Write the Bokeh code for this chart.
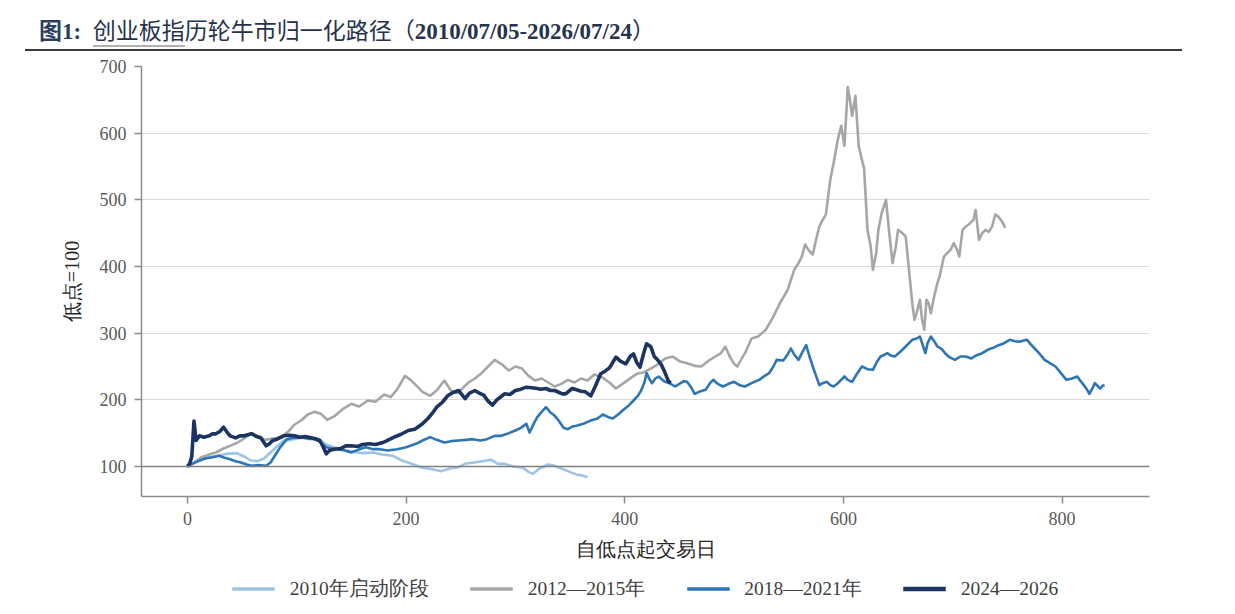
from bokeh.plotting import figure
from bokeh.models import Range1d, Span, Legend, LegendItem, Div, FixedTicker
from bokeh.layouts import column
from bokeh.embed import file_html
from bokeh.resources import INLINE

# ---------------- data ----------------
title_prefix = "图1:"
title_underlined = "创业板指"
title_rest = "历轮牛市归一化路径"
title_dates = "2010/07/05-2026/07/24"
x_label = "自低点起交易日"
y_label = "低点=100"
series_names = ["2010年启动阶段", "2012—2015年", "2018—2021年", "2024—2026"]
x_ticks = [0, 200, 400, 600, 800]
y_ticks = [100, 200, 300, 400, 500, 600, 700]

d_2010 = [0, 5, 12, 20, 28, 36, 45, 52, 58, 64, 70, 76, 82, 88, 95, 104, 112, 120, 126, 132,
          140, 150, 160, 170, 178, 188, 196, 205, 215, 224, 232, 240, 248, 254, 262, 270, 278,
          284, 290, 298, 307, 312, 316, 322, 330, 336, 342, 348, 356, 362, 366]
v_2010 = [100, 104, 110, 114, 116, 119, 120, 115, 109, 108, 112, 121, 130, 139, 140, 143, 141, 142, 134, 130,
          126, 123, 120, 121, 118, 116, 109, 104, 98, 96, 93, 97, 99, 104, 106, 108, 110,
          104, 104, 100, 98, 92, 89, 97, 103, 101, 97, 93, 88, 86, 84]

d_2012 = [0, 6, 13, 20, 26, 33, 39, 46, 52, 58, 64, 71, 78, 86, 92, 98, 104, 110, 116, 122,
          128, 135, 142, 150, 157, 165, 172, 180, 186, 192, 199, 204, 209, 215, 222, 228, 235,
          241, 247, 252, 257, 263, 269, 275, 281, 287, 294, 300, 306, 312, 318, 324, 330, 336,
          342, 348, 354, 360, 366, 372, 379, 386, 392, 398, 404, 411, 417, 423, 431, 437, 444,
          450, 457, 464, 470, 477, 483, 488, 492, 496, 500, 503, 507, 510, 516, 522, 529, 536,
          542, 549, 555, 559, 562, 565, 568, 572, 575, 578, 581, 584, 588, 591, 595, 598, 601,
          604, 606, 608, 611, 614, 617, 619, 622, 625, 627, 630, 632, 635, 639, 642, 645, 648,
          650, 654, 657, 660, 663, 665, 667, 670, 672, 674, 676, 678, 680, 683, 686, 688, 692,
          695, 698, 701, 704, 706, 709, 712, 716, 719, 721, 724, 727, 730, 733, 736, 739, 741,
          744, 746, 748]
v_2012 = [100, 106, 114, 118, 121, 127, 131, 136, 142, 150, 146, 140, 142, 144, 152, 163, 169, 178, 182, 179,
          170, 176, 186, 194, 190, 199, 197, 208, 204, 216, 236, 230, 222, 212, 206, 214, 229,
          214, 210, 218, 226, 232, 240, 250, 260, 254, 244, 250, 247, 236, 229, 232, 226, 220,
          224, 230, 226, 232, 229, 238, 234, 226, 217, 224, 231, 239, 241, 246, 254, 262, 265,
          258, 255, 251, 250, 259, 265, 270, 280, 265, 254, 250, 262, 270, 292, 295, 305, 325,
          345, 365, 395, 405, 415, 433, 425, 418, 440, 460, 470, 478, 530, 555, 591, 611, 581,
          669, 650, 626, 656, 581, 560, 546, 455, 430, 395, 420, 455, 480, 500, 450, 405, 430,
          455, 450, 445, 395, 345, 320, 330, 350, 320, 305, 350, 345, 330, 355, 375, 385, 415,
          420, 425, 435, 425, 415, 455, 460, 465, 470, 485, 440, 450, 455, 452, 460, 478, 476,
          470, 465, 458]

d_2018 = [0, 4, 10, 16, 23, 29, 34, 39, 44, 49, 54, 59, 65, 72, 76, 80, 85, 91, 97, 104,
          110, 117, 122, 127, 132, 137, 144, 150, 156, 163, 170, 176, 183, 192, 200, 209, 215,
          222, 228, 235, 241, 248, 255, 261, 268, 274, 281, 287, 294, 300, 305, 310, 313, 317,
          320, 324, 328, 332, 336, 340, 344, 348, 352, 356, 362, 369, 375, 380, 385, 389, 394,
          398, 404, 408, 412, 415, 418, 420, 423, 425, 428, 431, 436, 441, 446, 450, 454, 457,
          461, 464, 468, 474, 478, 481, 485, 490, 495, 500, 505, 510, 516, 523, 528, 532, 536,
          539, 545, 549, 552, 555, 559, 562, 566, 569, 572, 575, 578, 581, 585, 588, 591, 595,
          601, 604, 608, 612, 617, 622, 627, 631, 634, 638, 640, 644, 647, 652, 657, 660, 663,
          667, 670, 672, 675, 677, 680, 683, 686, 690, 693, 697, 702, 707, 712, 717, 722, 727,
          732, 737, 742, 747, 752, 757, 761, 765, 768, 771, 775, 779, 784, 789, 794, 799, 804,
          809, 814, 817, 820, 823, 825, 828, 830, 833, 835, 837, 839]
v_2018 = [100, 104, 108, 112, 114, 116, 113, 111, 108, 106, 103, 101, 102, 101, 106, 116, 129, 141, 143, 144,
          142, 141, 136, 129, 127, 126, 124, 121, 125, 129, 126, 126, 124, 126, 129, 134, 139,
          144, 140, 136, 138, 139, 140, 141, 139, 141, 146, 146, 150, 154, 158, 164, 151, 165,
          174, 182, 189, 181, 176, 168, 158, 156, 160, 161, 164, 169, 172, 178, 174, 172, 178,
          184, 192, 199, 206, 214, 226, 240, 230, 225, 232, 235, 228, 225, 220, 224, 228, 227,
          218, 209, 212, 215, 225, 230, 224, 220, 224, 227, 222, 220, 225, 230, 236, 240, 250,
          260, 259, 268, 277, 268, 260, 270, 282, 265, 250, 236, 222, 225, 227, 222, 220, 225,
          235, 230, 227, 238, 250, 246, 245, 258, 265, 268, 270, 266, 265, 272, 280, 285, 290,
          292, 295, 285, 270, 285, 295, 288, 280, 276, 270, 264, 260, 265, 265, 262, 267, 270,
          275, 278, 282, 285, 290, 288, 287, 289, 290, 284, 277, 270, 260, 255, 250, 240, 230,
          232, 235, 228, 222, 215, 209, 218, 225, 220, 217, 221, 222]

d_2024 = [0, 2, 4, 6, 8, 11, 15, 20, 23, 26, 30, 33, 36, 39, 44, 48, 52, 56, 59, 63,
          67, 70, 72, 75, 78, 82, 88, 93, 98, 103, 108, 111, 116, 121, 124, 127, 130, 134,
          140, 145, 150, 156, 160, 166, 172, 179, 184, 189, 195, 202, 208, 215, 220, 225, 228,
          233, 238, 243, 248, 252, 254, 258, 263, 267, 271, 275, 279, 283, 287, 290, 295, 300,
          305, 310, 315, 320, 323, 328, 332, 336, 340, 343, 346, 349, 352, 356, 360, 364, 369,
          373, 378, 382, 386, 389, 392, 396, 401, 405, 408, 411, 414, 417, 420, 422, 424, 427,
          430, 433, 436, 438, 440, 442]
v_2024 = [100, 104, 115, 168, 139, 146, 144, 146, 149, 149, 153, 159, 152, 146, 143, 146, 146, 148, 149, 145,
          143, 136, 131, 134, 139, 141, 146, 147, 146, 144, 145, 144, 142, 139, 130, 119, 124, 126,
          127, 131, 131, 130, 133, 134, 133, 136, 140, 144, 148, 154, 156, 164, 172, 182, 189,
          196, 206, 211, 214, 206, 202, 210, 214, 210, 207, 198, 192, 200, 205, 209, 208, 214,
          216, 219, 218, 217, 216, 217, 214, 214, 211, 209, 209, 213, 217, 215, 213, 212, 206,
          220, 239, 243, 248, 256, 264, 258, 254, 265, 269, 256, 249, 268, 284, 282, 279, 265,
          260, 254, 244, 236, 228, 225]

colors = ["#9DC3E6", "#A6A6A6", "#2E75B6", "#1B3461"]
widths = [2.6, 2.6, 2.6, 3.6]

SERIF = "Liberation Serif"
AX = "#8C8C8C"
TXT = "#404040"

# ---------------- title block ----------------
title_html = (
    '<div style="position:relative;width:1219px;height:44px;">'
    '<div style="position:absolute;left:34px;top:11px;white-space:nowrap;'
    "font-family:'Liberation Serif','Noto Sans CJK SC',serif;font-size:23px;color:#26334D;\">"
    f'<span style="font-weight:bold;color:#2B3F5E;">{title_prefix}</span>&nbsp;&nbsp;'
    f'<span style="border-bottom:2px solid #B0B0B0;padding-bottom:1px;">{title_underlined}</span>{title_rest}'
    f'（<b>{title_dates}</b>）'
    '</div>'
    '<div style="position:absolute;left:20px;top:44px;width:1157px;height:0;border-top:2px solid #3A3A3A;"></div>'
    '</div>'
)
title_div = Div(text=title_html, width=1219, height=44)

# ---------------- main figure ----------------
p = figure(frame_width=1008, frame_height=430,
           x_range=Range1d(-42, 880), y_range=Range1d(55, 700),
           output_backend="svg", toolbar_location=None,
           min_border_left=141, min_border_right=70, min_border_top=12, min_border_bottom=66)
p.outline_line_color = None
p.background_fill_color = "white"
p.border_fill_color = "white"

p.xgrid.grid_line_color = None
p.ygrid.grid_line_color = "#D9D9D9"
p.ygrid.grid_line_width = 1

p.xaxis.ticker = FixedTicker(ticks=x_ticks)
p.yaxis.ticker = FixedTicker(ticks=y_ticks)
for ax in (p.xaxis[0], p.yaxis[0]):
    ax.axis_line_color = AX
    ax.axis_line_width = 1.5
    ax.major_tick_line_color = AX
    ax.major_tick_line_width = 1.5
    ax.major_tick_out = 7
    ax.major_tick_in = 0
    ax.minor_tick_line_color = None
    ax.major_label_text_font = SERIF
    ax.major_label_text_font_size = "18px"
    ax.major_label_text_color = "#595959"
    ax.axis_label_text_font = SERIF
    ax.axis_label_text_font_size = "20px"
    ax.axis_label_text_font_style = "normal"
    ax.axis_label_text_color = "#262626"

p.xaxis.axis_label = x_label
p.yaxis.axis_label = y_label
p.xaxis.major_label_standoff = 8
p.yaxis.major_label_standoff = 8
p.xaxis.axis_label_standoff = 10
p.yaxis.axis_label_standoff = 14

p.add_layout(Span(location=100, dimension="width", line_color="#7F7F7F", line_width=1.6))

series = [(d_2010, v_2010), (d_2012, v_2012), (d_2018, v_2018), (d_2024, v_2024)]
for (xs, ys), c, w in zip(series, colors, widths):
    p.line(xs, ys, line_color=c, line_width=w, line_join="round")

# ---------------- legend strip (same series, drawn outside its view) ----------------
lg = figure(frame_width=1008, frame_height=52,
            x_range=Range1d(2000, 2001), y_range=Range1d(2000, 2001),
            output_backend="svg", toolbar_location=None,
            min_border_left=141, min_border_right=70, min_border_top=0, min_border_bottom=0)
lg.axis.visible = False
lg.grid.visible = False
lg.outline_line_color = None
lg.border_fill_color = "white"
lg.background_fill_color = "white"
items = []
for (xs, ys), name, c, w in zip(series, series_names, colors, widths):
    r = lg.line(xs, ys, line_color=c, line_width=w + 0.8)
    items.append(LegendItem(label=name, renderers=[r]))
legend = Legend(items=items, orientation="horizontal", location="center",
                glyph_width=43, label_standoff=15, spacing=41,
                label_text_font=SERIF, label_text_font_size="19.5px", label_text_color=TXT,
                border_line_color=None, background_fill_alpha=0, margin=0, padding=2)
lg.add_layout(legend, "center")

layout = column(title_div, p, lg)
open("out.html", "w").write(file_html(layout, INLINE))
